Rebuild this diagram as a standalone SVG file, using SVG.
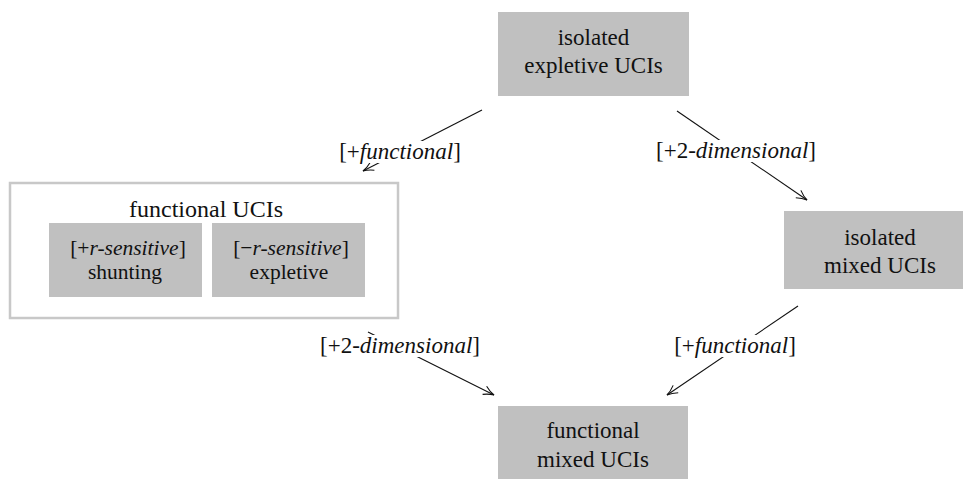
<svg xmlns="http://www.w3.org/2000/svg" width="963" height="479" viewBox="0 0 963 479">
<style>
.node{fill:#c0c0c0;stroke:none}
.outer{fill:#fff;stroke:#c8c8c8;stroke-width:2.5}
.txt text{fill:#111;text-anchor:middle}
.t{font-size:23px}
.h{font-size:24px}
.s{font-size:21.5px}
.l{font-size:23px}
.edge{fill:none;stroke:#111;stroke-width:1.1}
.bg{fill:#fff}
</style>
<defs>
<marker id="arr" markerWidth="14" markerHeight="12" refX="12" refY="6" orient="auto" markerUnits="userSpaceOnUse">
<path d="M1.5,1.5 Q7,5 12,6 Q7,7 1.5,10.5" fill="none" stroke="#111" stroke-width="1.1"/>
</marker>
</defs>
<rect width="963" height="479" fill="#fff"/>
<g class="txt" font-family="'Liberation Serif', 'Times New Roman', serif">
<g id="connectors">
<line class="edge" x1="482" y1="110" x2="363" y2="171" marker-end="url(#arr)"/>
<line class="edge" x1="677" y1="111" x2="807" y2="200" marker-end="url(#arr)"/>
<line class="edge" x1="798" y1="306" x2="667" y2="395" marker-end="url(#arr)"/>
<line class="edge" x1="368" y1="332" x2="494" y2="395" marker-end="url(#arr)"/>
<g id="label-1"><rect class="bg" x="338" y="141" width="124" height="22"/><text class="l" x="400" y="159">[+<tspan font-style="italic">functional</tspan>]</text></g>
<g id="label-2"><rect class="bg" x="656" y="140" width="161" height="22"/><text class="l" x="736" y="158">[+2-<tspan font-style="italic">dimensional</tspan>]</text></g>
<g id="label-3"><rect class="bg" x="673" y="335" width="124" height="22"/><text class="l" x="735" y="353">[+<tspan font-style="italic">functional</tspan>]</text></g>
<g id="label-4"><rect class="bg" x="321" y="335" width="159" height="22"/><text class="l" x="400" y="353">[+2-<tspan font-style="italic">dimensional</tspan>]</text></g>
</g>
<g id="isolated-expletive">
<rect class="node" x="498" y="12" width="191" height="84"/>
<text class="t" x="593.5" y="45">isolated</text>
<text class="t" x="593.5" y="73">expletive UCIs</text>
</g>
<g id="isolated-mixed">
<rect class="node" x="784" y="211" width="179" height="78"/>
<text class="t" x="880" y="245">isolated</text>
<text class="t" x="880" y="273">mixed UCIs</text>
</g>
<g id="functional-mixed">
<rect class="node" x="498" y="406" width="190" height="84"/>
<text class="t" x="593" y="438">functional</text>
<text class="t" x="593" y="467">mixed UCIs</text>
</g>
<g id="functional-ucis">
<rect class="outer" x="10" y="183" width="388" height="135"/>
<text class="h" x="206" y="217">functional UCIs</text>
<g id="shunting">
<rect class="node" x="49" y="223" width="153" height="74"/>
<text class="s" x="128" y="255">[+<tspan font-style="italic">r-sensitive</tspan>]</text>
<text class="s" x="125" y="279">shunting</text>
</g>
<g id="expletive">
<rect class="node" x="212" y="223" width="153" height="74"/>
<text class="s" x="291" y="255">[−<tspan font-style="italic">r-sensitive</tspan>]</text>
<text class="s" x="289" y="279">expletive</text>
</g>
</g>
</g>
</svg>
